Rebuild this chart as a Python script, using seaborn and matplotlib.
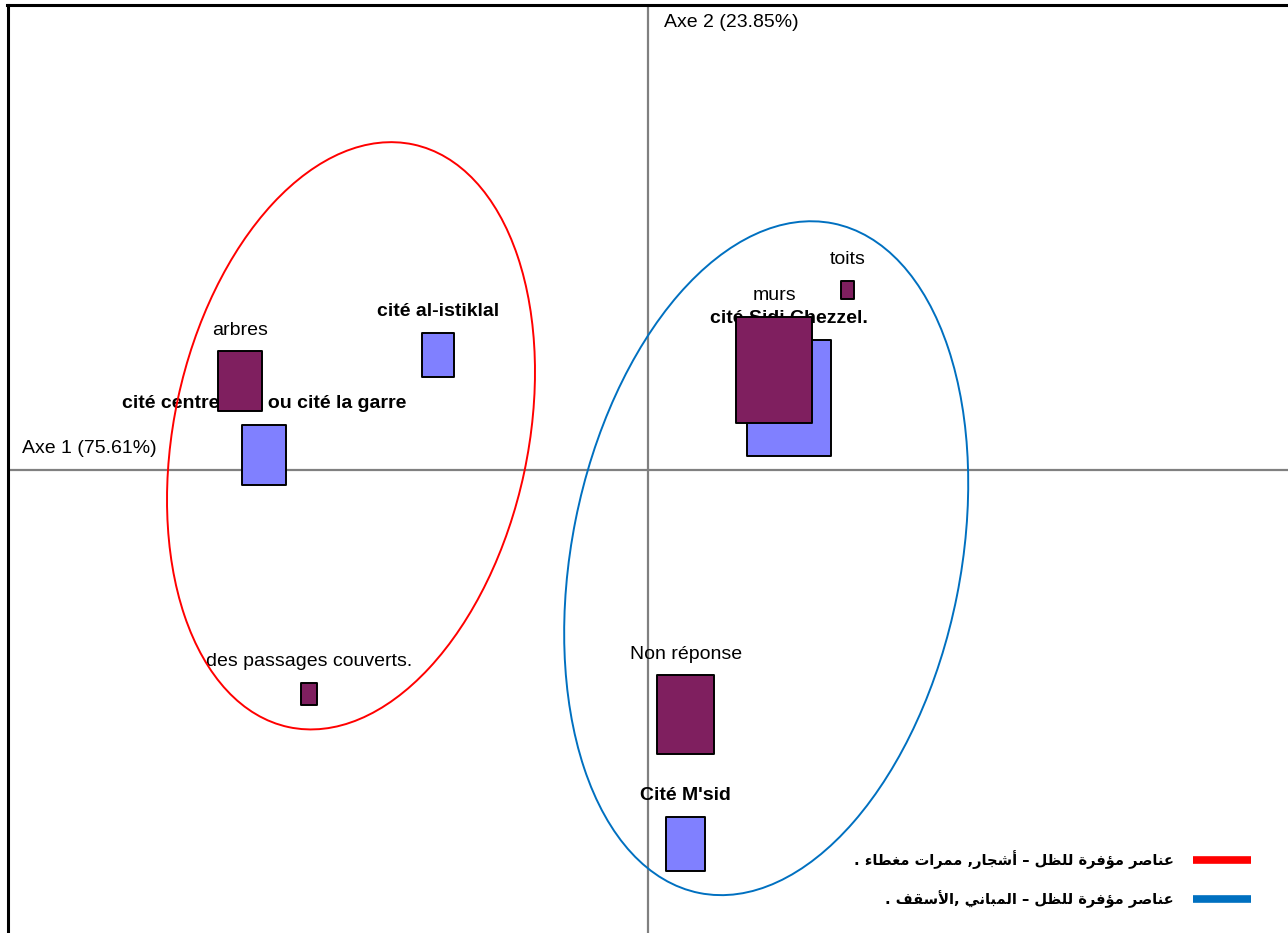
import numpy as np
import pandas as pd
import matplotlib
matplotlib.use("Agg")
import matplotlib.pyplot as plt
import seaborn as sns
from matplotlib.path import Path
from matplotlib.patches import Ellipse
from matplotlib.lines import Line2D

# ---------------- data ----------------
mod_labels = ["arbres", "murs", "toits", "des passages couverts.", "Non réponse"]
mod_x = [-0.680, 0.210, 0.333, -0.565, 0.063]
mod_y = [0.148, 0.167, 0.300, -0.373, -0.408]
mod_weight = [16.4, 51.3, 1.5, 2.2, 28.6]

city_labels = ["cité centre ville ou cité la garre", "cité al-istiklal",
               "cité Sidi Chezzel.", "Cité M'sid"]
city_x = [-0.640, -0.350, 0.235, 0.063]
city_y = [0.025, 0.192, 0.120, -0.623]
city_weight = [16.4, 8.9, 61.4, 13.3]

axis_inertia = [75.61, 23.85]

legend_labels = ["عناصر مؤفرة للظل – أشجار, ممرات مغطاء .",
                 "عناصر مؤفرة للظل – المباني ,الأسقف ."]

# ------------- minimal Arabic shaping (presentation forms) -------------
FORMS = {
    'ء': (0xFE80, 'U'), 'آ': (0xFE81, 'R'), 'أ': (0xFE83, 'R'), 'ؤ': (0xFE85, 'R'),
    'إ': (0xFE87, 'R'), 'ئ': (0xFE89, 'D'), 'ا': (0xFE8D, 'R'), 'ب': (0xFE8F, 'D'),
    'ة': (0xFE93, 'R'), 'ت': (0xFE95, 'D'), 'ث': (0xFE99, 'D'), 'ج': (0xFE9D, 'D'),
    'ح': (0xFEA1, 'D'), 'خ': (0xFEA5, 'D'), 'د': (0xFEA9, 'R'), 'ذ': (0xFEAB, 'R'),
    'ر': (0xFEAD, 'R'), 'ز': (0xFEAF, 'R'), 'س': (0xFEB1, 'D'), 'ش': (0xFEB5, 'D'),
    'ص': (0xFEB9, 'D'), 'ض': (0xFEBD, 'D'), 'ط': (0xFEC1, 'D'), 'ظ': (0xFEC5, 'D'),
    'ع': (0xFEC9, 'D'), 'غ': (0xFECD, 'D'), 'ف': (0xFED1, 'D'), 'ق': (0xFED5, 'D'),
    'ك': (0xFED9, 'D'), 'ل': (0xFEDD, 'D'), 'م': (0xFEE1, 'D'), 'ن': (0xFEE5, 'D'),
    'ه': (0xFEE9, 'D'), 'و': (0xFEED, 'R'), 'ي': (0xFEF1, 'D'),
}
LAMALEF = {'آ': 0xFEF5, 'أ': 0xFEF7, 'إ': 0xFEF9, 'ا': 0xFEFB}


def shape_ar(text):
    out = []
    i, n = 0, len(text)
    while i < n:
        c = text[i]
        if c not in FORMS:
            out.append(c)
            i += 1
            continue
        prev = text[i - 1] if i > 0 else ''
        jp = prev in FORMS and FORMS[prev][1] == 'D' and FORMS[c][1] != 'U'
        if c == 'ل' and i + 1 < n and text[i + 1] in LAMALEF:
            out.append(chr(LAMALEF[text[i + 1]] + (1 if jp else 0)))
            i += 2
            continue
        nxt = text[i + 1] if i + 1 < n else ''
        base, t = FORMS[c]
        jn = t == 'D' and nxt in FORMS and FORMS[nxt][1] != 'U'
        if t == 'D':
            off = 3 if (jp and jn) else 1 if jp else 2 if jn else 0
        elif t == 'R':
            off = 1 if jp else 0
        else:
            off = 0
        out.append(chr(base + off))
        i += 1
    return ''.join(out)[::-1]


# ---------------- figure ----------------
sns.set_theme(style="white")
plt.rcParams['font.family'] = ['Liberation Sans', 'DejaVu Sans']
plt.rcParams['text.color'] = 'black'

W, H, DPI = 1288, 933, 100
fig = plt.figure(figsize=(W / DPI, H / DPI), dpi=DPI)
left_px, top_px = 7.5, 5.0
ax = fig.add_axes([left_px / W, 0, 1 - left_px / W, (H - top_px) / H])

scale = 600.0  # px per unit
ox, oy = 648.0, 470.0
ax.set_xlim((left_px - ox) / scale, (W - ox) / scale)
ax.set_ylim((oy - H) / scale, (oy - top_px) / scale)

for s in ["right", "bottom"]:
    ax.spines[s].set_visible(False)
for s in ["top", "left"]:
    ax.spines[s].set_color("black")
    ax.spines[s].set_linewidth(2.2)
ax.set_xticks([])
ax.set_yticks([])

ax.axhline(0, color="#808080", lw=1.6, zorder=1)
ax.axvline(0, color="#808080", lw=1.6, zorder=1)

# rectangular marker, aspect w/h = 0.72
rect = Path([(-0.36, -0.5), (0.36, -0.5), (0.36, 0.5), (-0.36, 0.5), (-0.36, -0.5)],
            [Path.MOVETO, Path.LINETO, Path.LINETO, Path.LINETO, Path.CLOSEPOLY])

K = 113.5  # marker area (pt^2) per weight unit
df_city = pd.DataFrame({"x": city_x, "y": city_y, "w": city_weight,
                        "g": ["cité"] * len(city_x)})
df_mod = pd.DataFrame({"x": mod_x, "y": mod_y, "w": mod_weight,
                       "g": ["modalité"] * len(mod_x)})
pal = {"cité": "#8080FF", "modalité": "#7F1F5F"}

sns.scatterplot(data=df_city, x="x", y="y", hue="g", palette=pal, size="w",
                sizes=(0, 100 * K), size_norm=(0, 100), marker=rect,
                edgecolor="black", linewidth=1.4, legend=False, ax=ax, zorder=2)
sns.scatterplot(data=df_mod, x="x", y="y", hue="g", palette=pal, size="w",
                sizes=(0, 100 * K), size_norm=(0, 100), marker=rect,
                edgecolor="black", linewidth=1.4, legend=False, ax=ax, zorder=4)
ax.set_xlabel("")
ax.set_ylabel("")

FS = 14


def label(x, y, w, txt, bold, z):
    h = np.sqrt(w * K)
    ax.annotate(txt, xy=(x, y), xytext=(0, h / 2 + 12), textcoords="offset points",
                ha="center", va="baseline", fontsize=FS,
                fontweight="bold" if bold else "normal", color="black", zorder=z)


for x, y, w, t in zip(city_x, city_y, city_weight, city_labels):
    label(x, y, w, t, True, 3)
for x, y, w, t in zip(mod_x, mod_y, mod_weight, mod_labels):
    label(x, y, w, t, False, 5)

# axis titles
ax.annotate(f"Axe 1 ({axis_inertia[0]:.2f}%)", xy=(0, 0),
            xycoords=("axes fraction", "data"), xytext=(10.5, 12.5),
            textcoords="offset points", ha="left", va="baseline", fontsize=FS)
ax.annotate(f"Axe 2 ({axis_inertia[1]:.2f}%)", xy=(0, 1),
            xycoords=("data", "axes fraction"), xytext=(11.5, -16),
            textcoords="offset points", ha="left", va="baseline", fontsize=FS)

# group ellipses
ax.add_patch(Ellipse((-0.495, 0.057), 0.59, 0.993, angle=-12.1,
                     fill=False, edgecolor="#FF0000", lw=1.4, zorder=6))
ax.add_patch(Ellipse((0.197, -0.147), 0.648, 1.138, angle=-11.3,
                     fill=False, edgecolor="#0070C0", lw=1.4, zorder=6))

handles = [Line2D([], [], color="#FF0000", lw=5.5, solid_capstyle="butt"),
           Line2D([], [], color="#0070C0", lw=5.5, solid_capstyle="butt")]
leg = ax.legend(handles, [shape_ar(t) for t in legend_labels],
                loc="lower right", bbox_to_anchor=(1251 / W, 25 / H),
                bbox_transform=fig.transFigure, markerfirst=False, frameon=False,
                borderaxespad=0, borderpad=0, handlelength=4.0, handletextpad=1.3,
                labelspacing=1.45,
                prop={"family": "DejaVu Sans", "weight": "bold", "size": 10.5})

fig.savefig("out.png", dpi=DPI)
